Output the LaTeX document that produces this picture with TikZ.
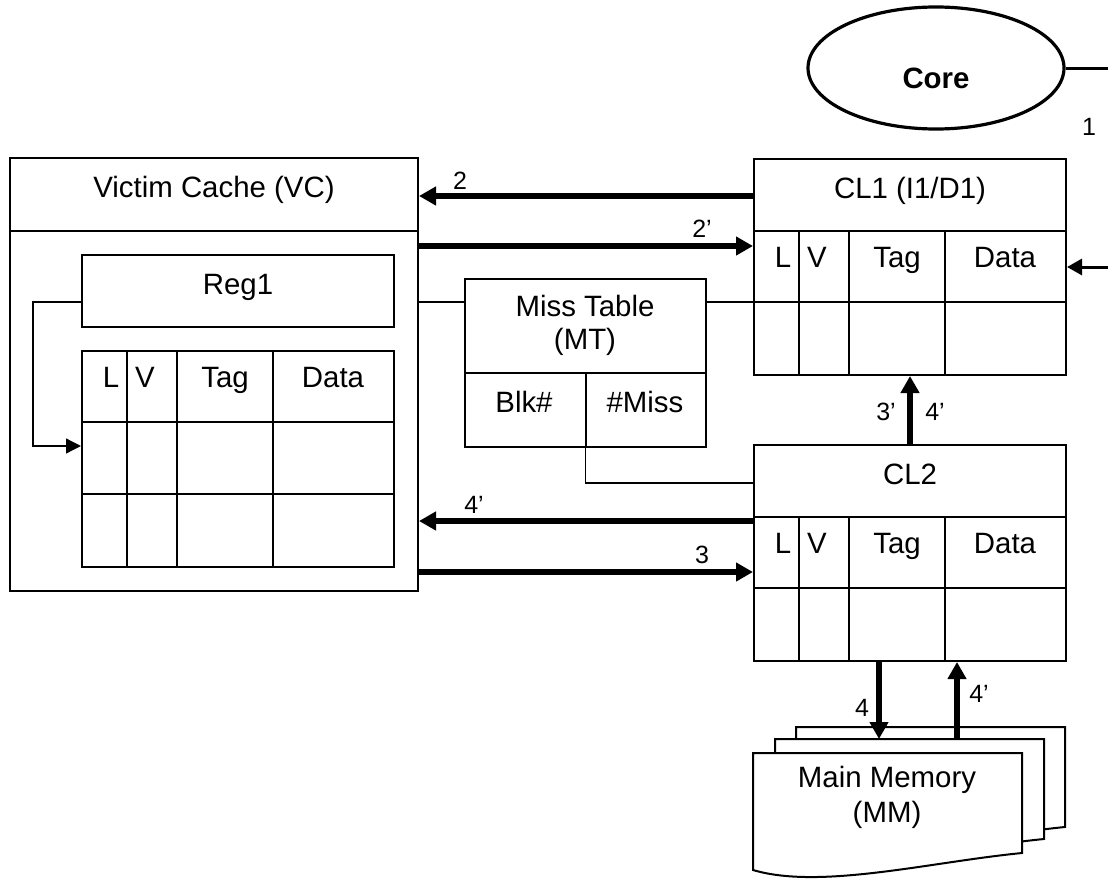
\documentclass[tikz,border=0pt]{standalone}
\usepackage{fontspec}
\setmainfont{Liberation Sans}
\usetikzlibrary{arrows.meta,positioning,shapes.geometric}

\newcommand{\cachegrid}[4]{%
  \node[box, minimum width=156pt, minimum height=#3*36pt] (#4) at (#1,#2) {};
  \foreach \cx in {46,96,192} \draw[line width=1pt] (#1+\cx,#2) -- ++(0,#3*72);
  \foreach \ry in {2,...,#3} \draw[line width=1pt] (#1,#2+\ry*72-72) -- ++(312,0);
  \node[txt, anchor=base] (#4-l) at (#1+30,#2+37) {L};
  \node[txt, anchor=base] (#4-v) at (#1+64,#2+37) {V};
  \node[txt, anchor=base] (#4-tag) at (#1+144,#2+37) {Tag};
  \node[txt, anchor=base] (#4-data) at (#1+252,#2+37) {Data};
}

\begin{document}
\begin{tikzpicture}[
    x=0.5pt, y=-0.5pt,
    box/.style={rectangle, draw=black, line width=1pt, inner sep=0pt, anchor=north west},
    hdr/.style={box, minimum height=36pt, text height=10.5pt, text depth=7.3pt, font=\fontsize{14.7}{16.5}\selectfont},
    txt/.style={inner sep=0pt, font=\fontsize{14.7}{16.5}\selectfont},
    lbl/.style={inner sep=0pt, anchor=base, font=\fontsize{12.5}{14}\selectfont},
    bigarrow/.style={-{Triangle[length=8.5pt,width=9pt]}, line width=2.7pt},
    wire/.style={line width=0.65pt},
]
\useasboundingbox (0,0) rectangle (1108,878);
\clip (0,0) rectangle (1108,878);

% victim cache
\node[box, minimum width=204pt, minimum height=216.5pt] (vc) at (9,157) {};
\node[hdr, minimum width=204pt, minimum height=36.5pt] (vctitle) at (9,157) {Victim Cache (VC)};
\node[hdr, minimum width=156pt] (reg) at (81,254) {Reg1};
\cachegrid{81}{350}{3}{vcgrid}

% CL1 and CL2
\node[box, minimum width=156pt, minimum height=108pt] (cl1) at (753,158) {};
\node[hdr, minimum width=156pt] (cl1title) at (753,158) {CL1 (I1/D1)};
\cachegrid{753}{230}{2}{cl1grid}
\node[box, minimum width=156pt, minimum height=108pt] (cl2) at (753,444) {};
\node[hdr, minimum width=156pt] (cl2title) at (753,444) {CL2};
\cachegrid{753}{516}{2}{cl2grid}

% miss table
\node[box, minimum width=120.5pt, minimum height=84pt] (mt) at (464,278) {};
\node[txt, align=center] (mttitle) at (585,325) {Miss Table\\(MT)};
\draw[line width=1pt] (mt.west |- 0,373) -- (mt.east |- 0,373);
\draw[line width=1pt] (mt.south) -- (mt.south |- 0,373);
\node[txt, anchor=base] (blk) at (524,412) {Blk\#};
\node[txt, anchor=base] (nmiss) at (645,412) {\#Miss};

% core
\node[draw, ellipse, line width=1.6pt, minimum width=128pt, minimum height=61pt, inner sep=0pt,
      text height=20pt, text depth=0pt, font=\fontsize{14.7}{16.5}\selectfont\bfseries] (core) at (936,68) {Core};

% main memory
\foreach \dx/\dy in {43/-26,22/-14,0/0}
  \draw[line width=1pt, fill=white, shift={(\dx,\dy)}] (753,753) -- (1022,753) -- (1022,853)
    .. controls (930,862) and (820,890) .. (753,870) -- cycle;
\node[txt, align=center, font=\fontsize{14.7}{17.5}\selectfont] (mm) at (887,797) {Main Memory\\(MM)};
\coordinate (mmtop) at (887,739);

\draw[bigarrow] (cl1.west |- 0,196) -- (vc.east |- 0,196);
\draw[bigarrow] (vc.east |- 0,246) -- (cl1.west |- 0,246);
\draw[bigarrow] (cl2.west |- 0,521) -- (vc.east |- 0,521);
\draw[bigarrow] (vc.east |- 0,572) -- (cl2.west |- 0,572);
\draw[bigarrow] (cl2.north) -- (cl1.south);
\draw[bigarrow] (cl2.south -| 879,0) -- (mmtop -| 879,0);
\draw[bigarrow] (mmtop -| 957,0) -- (cl2.south -| 957,0);
\draw[wire] (vc.east |- 0,302) -- (mt.west |- 0,302);
\draw[wire] (mt.east |- 0,302) -- (cl1.west |- 0,302);
\draw[wire] (mt.south) |- (cl2.west |- 0,483);
\draw[wire, -{Triangle[length=7.5pt,width=7.5pt]}] (reg.west |- 0,302) -- ++(-48,0) |- (vcgrid.west |- 0,446);
\draw[line width=1.5pt, -{Triangle[length=7.5pt,width=8pt]}] (core.east) -- ++(70,0) |- (cl1.east |- 0,267);

\node[lbl] (l2) at (460,189) {2};
\node[lbl] (l2p) at (702,237) {2'};
\node[lbl] (l4p) at (474,513) {4'};
\node[lbl] (l3) at (702,563) {3};
\node[lbl] (l3p) at (886,420) {3'};
\node[lbl] (l4pup) at (935,420) {4'};
\node[lbl] (l4) at (862,716) {4};
\node[lbl] (l4pmm) at (979,702) {4'};
\node[lbl] (l1) at (1089,135) {1};
\end{tikzpicture}
\end{document}
